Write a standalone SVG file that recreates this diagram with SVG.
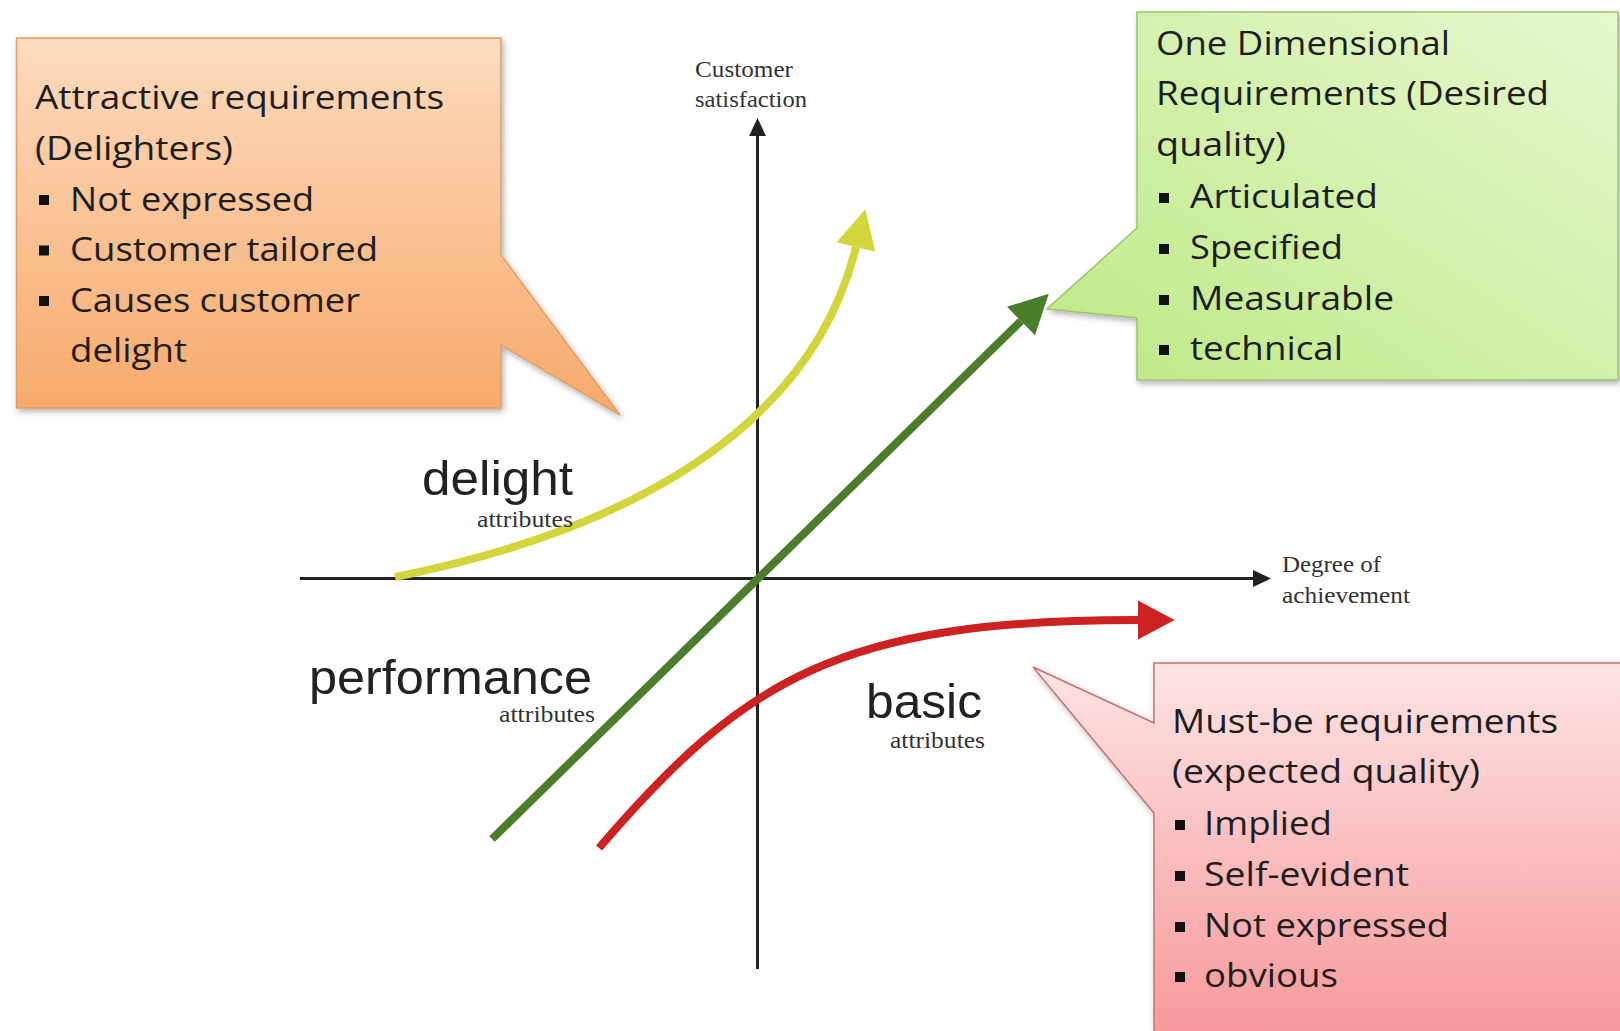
<svg xmlns="http://www.w3.org/2000/svg" width="1620" height="1031" viewBox="0 0 1620 1031">
  <defs>
    <style>
      .box { font-family: "Open Sans", "Liberation Sans", sans-serif; font-size: 33px; fill: #1e1e1e; }
      .big { font-family: "Liberation Sans", Arial, sans-serif; font-size: 48px; fill: #222; }
      .small { font-family: "Liberation Serif", "Times New Roman", serif; font-size: 24px; fill: #333; }
      .bul { fill: #111; }
      .axis { stroke: #222; stroke-width: 3; fill: none; }
      .curve { fill: none; stroke-width: 8; stroke-linecap: butt; }
    </style>
    <linearGradient id="gOrange" x1="0" y1="0" x2="0" y2="1">
      <stop offset="0" stop-color="#fddbbf"/>
      <stop offset="1" stop-color="#f7a96a"/>
    </linearGradient>
    <linearGradient id="gGreen" x1="1" y1="0" x2="0" y2="1">
      <stop offset="0" stop-color="#e6f8cf"/>
      <stop offset="1" stop-color="#bde985"/>
    </linearGradient>
    <linearGradient id="gRed" x1="0" y1="0" x2="0" y2="1">
      <stop offset="0" stop-color="#fde4e4"/>
      <stop offset="1" stop-color="#f7999b"/>
    </linearGradient>
    <filter id="shadow" x="-10%" y="-10%" width="130%" height="130%">
      <feDropShadow dx="2" dy="3" stdDeviation="3" flood-color="#000" flood-opacity="0.3"/>
    </filter>
    <marker id="mAxis" markerUnits="userSpaceOnUse" markerWidth="18" markerHeight="18" viewBox="0 -8 16 16" refX="0" refY="0" orient="auto">
      <path d="M0,-7.5 L16,0 L0,7.5 Z" fill="#222"/>
    </marker>
    <marker id="mYellow" markerUnits="userSpaceOnUse" markerWidth="40" markerHeight="40" viewBox="0 -18 35 36" refX="0" refY="0" orient="auto">
      <path d="M0,-18 L35,0 L0,18 Z" fill="#d2d53c"/>
    </marker>
    <marker id="mGreen" markerUnits="userSpaceOnUse" markerWidth="40" markerHeight="40" viewBox="0 -18 35 36" refX="0" refY="0" orient="auto">
      <path d="M0,-18 L35,0 L0,18 Z" fill="#4b7d2b"/>
    </marker>
    <marker id="mRed" markerUnits="userSpaceOnUse" markerWidth="40" markerHeight="40" viewBox="0 -18 33 36" refX="0" refY="0" orient="auto">
      <path d="M0,-17.5 L33,0 L0,17.5 Z" fill="#cc2222"/>
    </marker>
  </defs>

  <rect x="0" y="0" width="1620" height="1031" fill="#ffffff"/>

  <g id="connectors">
    <path id="axis-x" class="axis" d="M300,578.5 L1253,578.5" marker-end="url(#mAxis)"/>
    <path id="axis-y" class="axis" d="M757.5,969 L757.5,136" marker-end="url(#mAxis)"/>
    <path id="curve-delight" class="curve" stroke="#d2d53c" d="M395,577 C640,528 813,422 856,247" marker-end="url(#mYellow)"/>
    <path id="line-performance" class="curve" stroke="#4b7d2b" stroke-width="7" d="M492,839 L1021,321" marker-end="url(#mGreen)"/>
    <path id="curve-basic" class="curve" stroke="#cc2222" d="M599,848 C745,678 840,620 1138,620" marker-end="url(#mRed)"/>
  </g>

  <g id="axis-y-label">
    <text class="small" x="695" y="77" textLength="98" lengthAdjust="spacingAndGlyphs">Customer</text>
    <text class="small" x="695" y="107" textLength="112" lengthAdjust="spacingAndGlyphs">satisfaction</text>
  </g>
  <g id="axis-x-label">
    <text class="small" x="1282" y="572" textLength="99" lengthAdjust="spacingAndGlyphs">Degree of</text>
    <text class="small" x="1282" y="603" textLength="128" lengthAdjust="spacingAndGlyphs">achievement</text>
  </g>

  <g id="label-delight">
    <text class="big" x="422" y="495" textLength="151" lengthAdjust="spacingAndGlyphs">delight</text>
    <text class="small" x="477" y="527" textLength="96" lengthAdjust="spacingAndGlyphs">attributes</text>
  </g>
  <g id="label-performance">
    <text class="big" x="309" y="694" textLength="283" lengthAdjust="spacingAndGlyphs">performance</text>
    <text class="small" x="499" y="722" textLength="96" lengthAdjust="spacingAndGlyphs">attributes</text>
  </g>
  <g id="label-basic">
    <text class="big" x="866" y="718" textLength="116" lengthAdjust="spacingAndGlyphs">basic</text>
    <text class="small" x="890" y="748" textLength="95" lengthAdjust="spacingAndGlyphs">attributes</text>
  </g>

  <g id="callout-attractive">
    <path d="M16.5,38 H501 V255 L620,415 L501,345 V408 H16.5 Z" fill="url(#gOrange)" stroke="#e0a064" stroke-width="1.5" filter="url(#shadow)"/>
    <text class="box" x="35" y="109" textLength="409" lengthAdjust="spacingAndGlyphs">Attractive requirements</text>
    <text class="box" x="35" y="159.5" textLength="198" lengthAdjust="spacingAndGlyphs">(Delighters)</text>
    <rect class="bul" x="39" y="195" width="10" height="10"/>
    <text class="box" x="70" y="210.5" textLength="244" lengthAdjust="spacingAndGlyphs">Not expressed</text>
    <rect class="bul" x="39" y="245.5" width="10" height="10"/>
    <text class="box" x="70" y="261" textLength="308" lengthAdjust="spacingAndGlyphs">Customer tailored</text>
    <rect class="bul" x="39" y="296" width="10" height="10"/>
    <text class="box" x="70" y="311.5" textLength="290" lengthAdjust="spacingAndGlyphs">Causes customer</text>
    <text class="box" x="70" y="362" textLength="117" lengthAdjust="spacingAndGlyphs">delight</text>
  </g>

  <g id="callout-one-dimensional">
    <path d="M1137,12 H1618 V380 H1137 V318 L1047,309 L1137,228 Z" fill="url(#gGreen)" stroke="#9cc46c" stroke-width="1.5" filter="url(#shadow)"/>
    <text class="box" x="1156" y="55" textLength="294" lengthAdjust="spacingAndGlyphs">One Dimensional</text>
    <text class="box" x="1156" y="105" textLength="393" lengthAdjust="spacingAndGlyphs">Requirements (Desired</text>
    <text class="box" x="1156" y="156" textLength="130" lengthAdjust="spacingAndGlyphs">quality)</text>
    <rect class="bul" x="1159" y="193" width="10" height="10"/>
    <text class="box" x="1190" y="208" textLength="188" lengthAdjust="spacingAndGlyphs">Articulated</text>
    <rect class="bul" x="1159" y="244" width="10" height="10"/>
    <text class="box" x="1190" y="259" textLength="153" lengthAdjust="spacingAndGlyphs">Specified</text>
    <rect class="bul" x="1159" y="295" width="10" height="10"/>
    <text class="box" x="1190" y="310" textLength="204" lengthAdjust="spacingAndGlyphs">Measurable</text>
    <rect class="bul" x="1159" y="345" width="10" height="10"/>
    <text class="box" x="1190" y="360" textLength="153" lengthAdjust="spacingAndGlyphs">technical</text>
  </g>

  <g id="callout-must-be">
    <path d="M1154,663 H1622 V1033 H1154 V813 L1033,667 L1154,723 Z" fill="url(#gRed)" stroke="#c77272" stroke-width="1.5" filter="url(#shadow)"/>
    <text class="box" x="1172" y="733" textLength="386" lengthAdjust="spacingAndGlyphs">Must-be requirements</text>
    <text class="box" x="1172" y="783" textLength="308" lengthAdjust="spacingAndGlyphs">(expected quality)</text>
    <rect class="bul" x="1175" y="820" width="10" height="10"/>
    <text class="box" x="1204" y="835" textLength="128" lengthAdjust="spacingAndGlyphs">Implied</text>
    <rect class="bul" x="1175" y="871" width="10" height="10"/>
    <text class="box" x="1204" y="886" textLength="205" lengthAdjust="spacingAndGlyphs">Self-evident</text>
    <rect class="bul" x="1175" y="922" width="10" height="10"/>
    <text class="box" x="1204" y="937" textLength="245" lengthAdjust="spacingAndGlyphs">Not expressed</text>
    <rect class="bul" x="1175" y="972" width="10" height="10"/>
    <text class="box" x="1204" y="987" textLength="134" lengthAdjust="spacingAndGlyphs">obvious</text>
  </g>
</svg>
